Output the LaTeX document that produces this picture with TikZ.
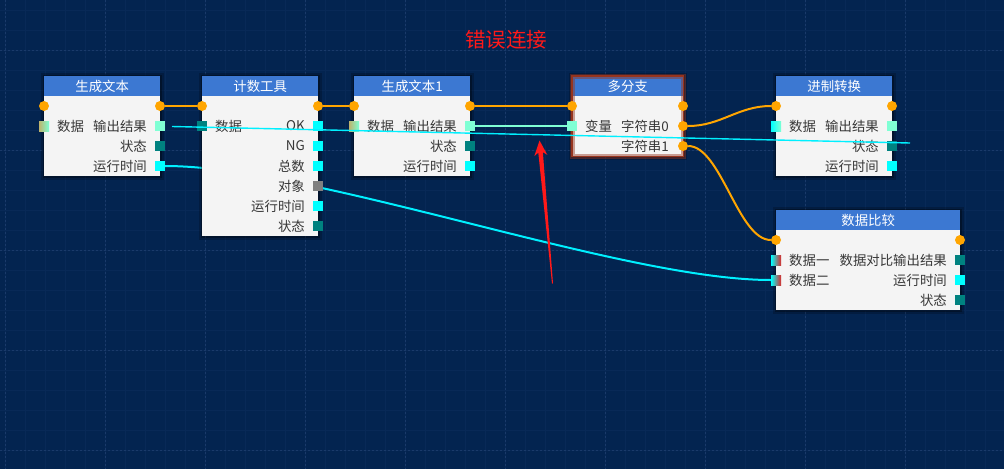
\documentclass[tikz,border=0pt]{standalone}
\usepackage{fontspec}
\newfontfamily\cjk{Noto Sans CJK SC}
\usetikzlibrary{calc}
\definecolor{bgnavy}{RGB}{3,36,80}
\definecolor{gridfine}{RGB}{8,41,87}
\definecolor{griddot}{RGB}{26,58,106}
\definecolor{headblue}{RGB}{60,120,210}
\definecolor{bodygrey}{RGB}{244,244,244}
\definecolor{labelgrey}{RGB}{55,55,55}
\definecolor{flowamber}{RGB}{255,165,0}
\definecolor{portcyan}{RGB}{0,255,255}
\definecolor{portaqua}{RGB}{127,255,212}
\definecolor{portteal}{RGB}{0,130,128}
\definecolor{portgrey}{RGB}{128,128,128}
\definecolor{portolive}{RGB}{190,180,110}
\definecolor{portred}{RGB}{220,40,40}
\definecolor{wirecyan}{RGB}{0,240,255}
\definecolor{selbrown}{RGB}{150,52,30}
\definecolor{titlered}{RGB}{255,25,25}
\pgfdeclarelayer{grid}
\pgfdeclarelayer{wires}
\pgfsetlayers{grid,wires,main}
\tikzset{
	% Boxes: grey body with a dark halo, blue title strip
	box body/.style={rectangle,fill=bodygrey,anchor=north west,inner sep=0,
		preaction={draw=black,opacity=.2,line width=7},
		preaction={draw=black,opacity=.3,line width=3}},
	box head/.style={rectangle,fill=headblue,anchor=north west,inner sep=0,minimum height=20,text=white},
	% Ports: round for flow, square for data
	flow port/.style={circle,fill=flowamber,minimum size=10,inner sep=0},
	data port/.style={rectangle,fill=#1,minimum size=10,inner sep=0},
	mix port/.style 2 args={rectangle,left color=#1,right color=#2,minimum size=10,inner sep=0},
	in label/.style={anchor=west,inner sep=0,text=labelgrey},
	out label/.style={anchor=east,inner sep=0,text=labelgrey},
	% Wires
	flow wire/.style={draw=flowamber,line width=2},
	data wire/.style={draw=#1,line width=2},
	wrong wire/.style={draw=wirecyan,line width=1.4}
}

\begin{document}
\begin{tikzpicture}[x=1pt,y=-1pt,font=\cjk\fontsize{13.4}{16}\selectfont]
	\useasboundingbox (0,0) rectangle (1004,469);
	% Background grid
	\begin{pgfonlayer}{grid}
		\fill[bgnavy] (0,0) rectangle (1004,469);
		\foreach \x in {5.7,25.7,...,1004} \draw[gridfine,line width=.8] (\x,0) -- (\x,469);
		\foreach \y in {10.7,30.7,...,469} \draw[gridfine,line width=.8] (0,\y) -- (1004,\y);
		\foreach \x in {5.7,105.7,...,1004} \draw[griddot,line width=1.3,dash pattern=on 1.5pt off 2.5pt] (\x,0) -- (\x,469);
		\foreach \y in {50.7,150.7,...,469} \draw[griddot,line width=1.3,dash pattern=on 1.5pt off 2.5pt] (0,\y) -- (1004,\y);
	\end{pgfonlayer}
	
	\node[text=titlered,font=\cjk\fontsize{20.5}{24}\selectfont] (title) at (506,40) {错误连接};
	
	% 生成文本
	\node[box body,minimum width=116,minimum height=100] (gen1) at (44,76) {};
	\node[box head,minimum width=116] (gen1-head) at (gen1.north west) {生成文本};
	\node[flow port] (gen1-fin) at (44,106) {};
	\node[flow port] (gen1-fout) at (160,106) {};
	\node[mix port={portolive}{portaqua}] (gen1-in) at (44,126) {};
	\node[in label] (gen1-lin) at (57,126) {数据};
	\foreach \y/\txt/\col [count=\i] in {126/输出结果/portaqua,146/状态/portteal,166/运行时间/portcyan}{
		\node[data port=\col] (gen1-out\i) at (160,\y) {};
		\node[out label] (gen1-lout\i) at (147,\y) {\txt};
	}
	
	% 计数工具
	\node[box body,minimum width=116,minimum height=160] (cnt) at (202,76) {};
	\node[box head,minimum width=116] (cnt-head) at (cnt.north west) {计数工具};
	\node[flow port] (cnt-fin) at (202,106) {};
	\node[flow port] (cnt-fout) at (318,106) {};
	\node[data port=portteal] (cnt-in) at (202,126) {};
	\node[in label] (cnt-lin) at (215,126) {数据};
	\foreach \y/\txt/\col [count=\i] in {126/OK/portcyan,146/NG/portcyan,166/总数/portcyan,186/对象/portgrey,206/运行时间/portcyan,226/状态/portteal}{
		\node[data port=\col] (cnt-out\i) at (318,\y) {};
		\node[out label] (cnt-lout\i) at (305,\y) {\txt};
	}
	
	% 生成文本1
	\node[box body,minimum width=116,minimum height=100] (gen2) at (354,76) {};
	\node[box head,minimum width=116] (gen2-head) at (gen2.north west) {生成文本1};
	\node[flow port] (gen2-fin) at (354,106) {};
	\node[flow port] (gen2-fout) at (470,106) {};
	\node[mix port={portolive}{portaqua}] (gen2-in) at (354,126) {};
	\node[in label] (gen2-lin) at (367,126) {数据};
	\foreach \y/\txt/\col [count=\i] in {126/输出结果/portaqua,146/状态/portteal,166/运行时间/portcyan}{
		\node[data port=\col] (gen2-out\i) at (470,\y) {};
		\node[out label] (gen2-lout\i) at (457,\y) {\txt};
	}
	
	% 多分支 (selected)
	\node[box body,minimum width=111,minimum height=80] (br) at (572,76) {};
	\node[box head,minimum width=111] (br-head) at (br.north west) {多分支};
	\draw[selbrown,line width=1.6,preaction={draw=selbrown,opacity=.45,line width=5}] (br.north west) rectangle (br.south east);
	\node[flow port] (br-fin) at (572,106) {};
	\node[flow port] (br-fout) at (683,106) {};
	\node[data port=portaqua] (br-in) at (572,126) {};
	\node[in label] (br-lin) at (585,126) {变量};
	\node[flow port] (br-s0) at (683,126) {};
	\node[out label] (br-ls0) at (669,126) {字符串0};
	\node[flow port] (br-s1) at (683,146) {};
	\node[out label] (br-ls1) at (669,146) {字符串1};
	
	% 进制转换
	\node[box body,minimum width=116,minimum height=100] (conv) at (776,76) {};
	\node[box head,minimum width=116] (conv-head) at (conv.north west) {进制转换};
	\node[flow port] (conv-fin) at (776,106) {};
	\node[flow port] (conv-fout) at (892,106) {};
	\node[mix port={portcyan}{portaqua}] (conv-in) at (776,126) {};
	\node[in label] (conv-lin) at (789,126) {数据};
	\foreach \y/\txt/\col [count=\i] in {126/输出结果/portaqua,146/状态/portteal,166/运行时间/portcyan}{
		\node[data port=\col] (conv-out\i) at (892,\y) {};
		\node[out label] (conv-lout\i) at (879,\y) {\txt};
	}
	
	% 数据比较
	\node[box body,minimum width=184,minimum height=100] (cmp) at (776,210) {};
	\node[box head,minimum width=184] (cmp-head) at (cmp.north west) {数据比较};
	\node[flow port] (cmp-fin) at (776,240) {};
	\node[flow port] (cmp-fout) at (960,240) {};
	\foreach \y/\txt [count=\i] in {260/数据一,280/数据二}{
		\node[mix port={portcyan}{portred}] (cmp-in\i) at (776,\y) {};
		\node[in label] (cmp-lin\i) at (789,\y) {\txt};
	}
	\foreach \y/\txt/\col [count=\i] in {260/数据对比输出结果/portteal,280/运行时间/portcyan,300/状态/portteal}{
		\node[data port=\col] (cmp-out\i) at (960,\y) {};
		\node[out label] (cmp-lout\i) at (947,\y) {\txt};
	}
	
	% Wires, under the boxes
	\begin{pgfonlayer}{wires}
		\draw[flow wire] (gen1-fout) -- (cnt-fin);
		\draw[flow wire] (cnt-fout) -- (gen2-fin);
		\draw[flow wire] (gen2-fout) -- (br-fin);
		\draw[flow wire] (br-s0) .. controls +(38,0) and +(-38,0) .. (conv-fin);
		\draw[flow wire] (br-s1) .. controls +(38,0) and +(-38,0) .. (cmp-fin);
		\draw[data wire=portaqua,line width=2.5] (gen2-out1) -- (br-in);
		\draw[data wire=wirecyan] (gen1-out3) .. controls +(155,0) and +(-155,0) .. (cmp-in2);
	\end{pgfonlayer}
	
	% The wire being dragged, on top
	\coordinate (drag-from) at (172,126.5);
	\coordinate (drag-to) at (910,143);
	\draw[wrong wire] (drag-from) -- (drag-to);
	
	% Red pointer
	\coordinate (tip) at (539.5,140.5);
	\coordinate (tail) at (552.5,283.5);
	\coordinate (hb) at ($(tip)!15pt!(tail)$);
	\coordinate (nb) at ($(tip)!12pt!(tail)$);
	\fill[titlered] (tip) -- ($(hb)!6.5pt!90:(tail)$) -- ($(nb)!2.3pt!90:(tail)$)
		-- ($(tail)!.5pt!-90:(tip)$) -- ($(tail)!.5pt!90:(tip)$)
		-- ($(nb)!2.3pt!-90:(tail)$) -- ($(hb)!6.5pt!-90:(tail)$) -- cycle;
\end{tikzpicture}
\end{document}
